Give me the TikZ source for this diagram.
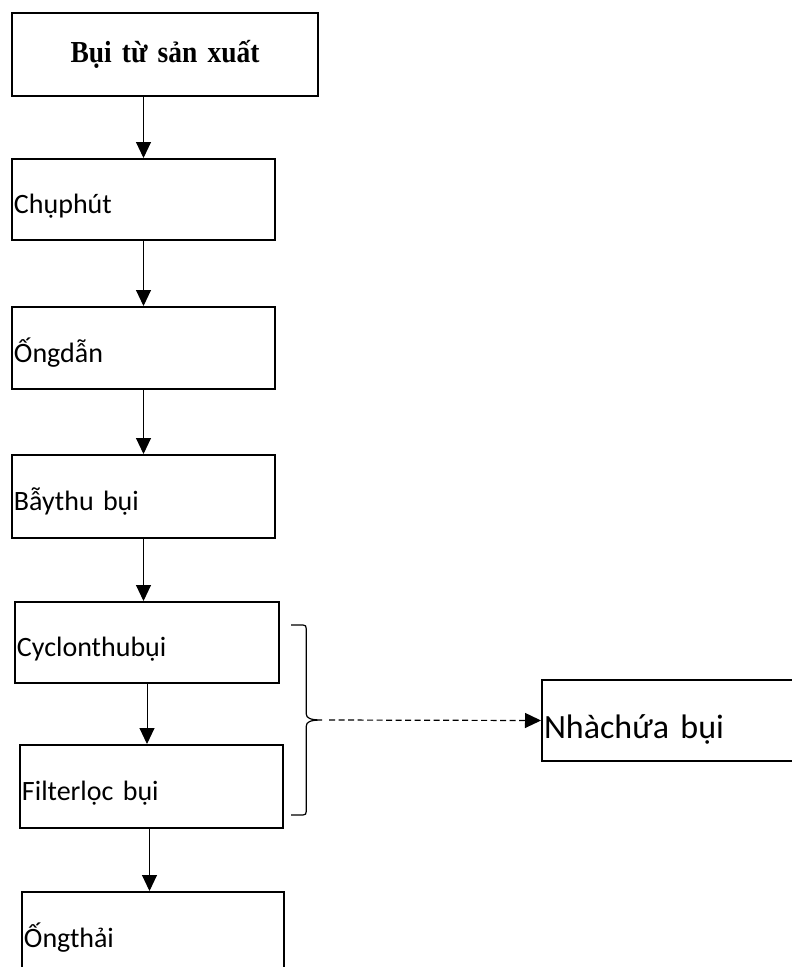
\documentclass[tikz,border=0pt]{standalone}
\usepackage{fontspec}
\usepackage{tikz}
\usetikzlibrary{arrows.meta}
\usetikzlibrary{positioning}

\newfontfamily\carlito{Carlito}
\newfontfamily\timesbf{Liberation Serif}[FakeStretch=0.9, WordSpace=0.6]
\newcommand\boxfont{\carlito\fontsize{28bp}{33bp}\selectfont}
\newcommand\bigboxfont{\carlito\fontsize{34bp}{40bp}\selectfont}
\newcommand\titlefont{\timesbf\bfseries\fontsize{30.5bp}{36bp}\selectfont}

\tikzset{
  box/.style={draw, line width=2bp, inner xsep=2bp, inner ysep=0pt,
    minimum height=82bp, text width=259bp, align=left, font=\boxfont,
    text height=33bp, text depth=5bp},
  title/.style={box, text width=302bp, align=center, font=\titlefont,
    text height=22bp, text depth=7bp},
  flow/.style={-{Triangle[length=16bp,width=15bp]}, line width=1bp},
}

\begin{document}
\begin{tikzpicture}[x=1bp, y=1bp]

\useasboundingbox (0,0) rectangle (792,-967);

% Boxes
\node[title, minimum height=83bp] (src) at (165,-54.5) {Bụi từ sản xuất};
\node[box, minimum height=81bp] (hood) at (143.5,-199.5) {Chụphút};
\node[box] (duct) at (143.5,-348) {Ốngdẫn};
\node[box, minimum height=83bp] (trap) at (143.5,-496.5) {Bẫythu bụi};
\node[box, minimum height=81bp, text width=260bp] (cyc) at (147,-642.5) {Cyclonthubụi};
\node[box, minimum height=83bp] (filt) at (151.5,-786.5) {Filterlọc bụi};
\node[box, minimum height=83bp, text width=258bp] (exh) at (153,-933.5) {Ốngthải};
\node[box, minimum height=81bp, font=\bigboxfont, text height=41bp, text depth=6bp] (store) at (673.5,-720.5) {Nhàchứa bụi};

% Arrows
\draw[flow] (hood.north |- src.south) -- (hood.north);
\draw[flow] (hood.south) -- (duct.north);
\draw[flow] (duct.south) -- (trap.north);
\draw[flow] (trap.south) -- (trap.south |- cyc.north);
\draw[flow] (cyc.south) -- (cyc.south |- filt.north);
\draw[flow] ([xshift=-2bp]filt.south) -- ([xshift=-2bp]filt.south |- exh.north);

% Brace
\coordinate (tip) at (322,-720);
\draw[line width=1.2bp] (291,-625) -- (303,-625)
  .. controls (305.5,-625) and (306.3,-626) .. (306.3,-629) -- (306.3,-714)
  .. controls (306.3,-718) and (310,-720) .. (tip)
  .. controls (310,-720) and (306.3,-722) .. (306.3,-726) -- (306.3,-811)
  .. controls (306.3,-814) and (305.5,-815) .. (303,-815) -- (291,-815);
\draw[flow, line width=1.2bp, dash pattern=on 6bp off 3.5bp, shorten <=7bp] (tip) -- (store.west);

\end{tikzpicture}
\end{document}
